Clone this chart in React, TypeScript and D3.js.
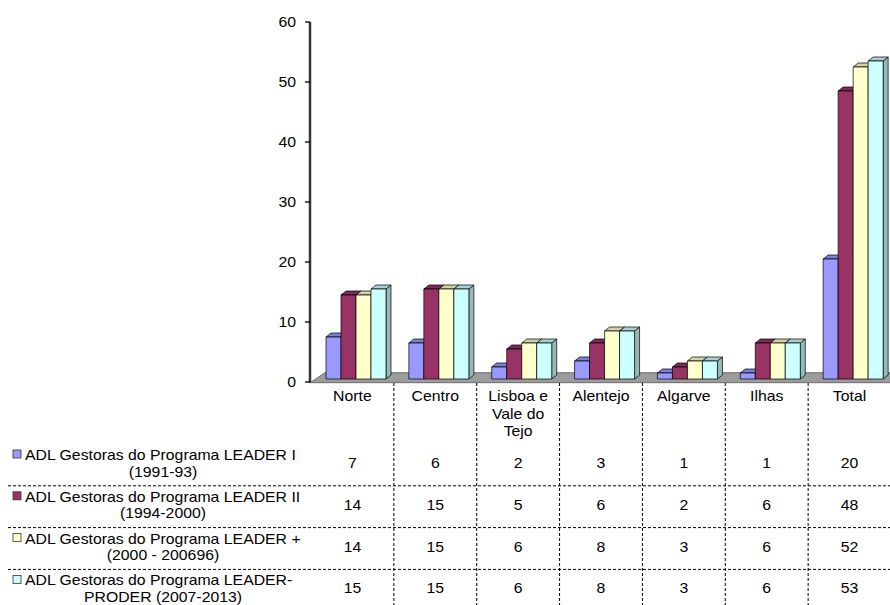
import React from "react";
import * as d3 from "d3";

const categories = ["Norte", "Centro", "Lisboa e Vale do Tejo", "Alentejo", "Algarve", "Ilhas", "Total"];
const categoryLines = [["Norte"], ["Centro"], ["Lisboa e", "Vale do", "Tejo"], ["Alentejo"], ["Algarve"], ["Ilhas"], ["Total"]];
const seriesNames = [
  ["ADL Gestoras do Programa LEADER  I", "(1991-93)"],
  ["ADL Gestoras do Programa LEADER II", "(1994-2000)"],
  ["ADL Gestoras do Programa LEADER +", "(2000 - 200696)"],
  ["ADL Gestoras do Programa LEADER-", "PRODER (2007-2013)"],
];
const leader1 = [7, 6, 2, 3, 1, 1, 20];
const leader2 = [14, 15, 5, 6, 2, 6, 48];
const leaderPlus = [14, 15, 6, 8, 3, 6, 52];
const proder = [15, 15, 6, 8, 3, 6, 53];
const seriesValues = [leader1, leader2, leaderPlus, proder];
const yTicks = [0, 10, 20, 30, 40, 50, 60];
const colors = ["#9999FF", "#993366", "#FFFFCC", "#CCFFFF"];

const W = 890;
const H = 605;
const FONT = "'Liberation Sans', Arial, sans-serif";
const SX = 1.13;

function T({ x, y, anchor = "middle", children, size = 14 }: any) {
  return (
    <text
      transform={`translate(${x},${y}) scale(${SX},1)`}
      textAnchor={anchor}
      fontFamily={FONT}
      fontSize={size}
      fill="#000"
    >
      {children}
    </text>
  );
}

export default function App() {
  const x = d3.scaleBand<string>().domain(categories).range([311, 891]).padding(0);
  const y = d3.scaleLinear().domain([0, 60]).range([382, 22]);
  const inner = d3.scaleBand<number>().domain([0, 1, 2, 3]).range([15, 75]).padding(0);
  const bw = inner.bandwidth();
  const dx = 5;
  const dy = -4;
  const lift = 3;

  const y0 = y(0);
  const floorDepthX = 15;
  const floorDepthY = -10;

  const rowTop = 444;
  const rowH = 41.8;

  const bars: any[] = [];
  categories.forEach((c, ci) => {
    seriesValues.forEach((vals, si) => {
      const v = vals[ci];
      const bx = (x(c) as number) + (inner(si) as number);
      const top = y(v) - lift;
      const bottom = y0 - lift;
      const col = d3.color(colors[si])!;
      const topCol = col.darker(0.55).formatHex();
      const sideCol = col.darker(0.9).formatHex();
      bars.push(
        <g key={`${ci}-${si}`} stroke="#000" strokeWidth={0.7} strokeLinejoin="round">
          <polygon
            points={`${bx + bw},${top} ${bx + bw + dx},${top + dy} ${bx + bw + dx},${bottom + dy} ${bx + bw},${bottom}`}
            fill={sideCol}
          />
          <polygon
            points={`${bx},${top} ${bx + dx},${top + dy} ${bx + bw + dx},${top + dy} ${bx + bw},${top}`}
            fill={topCol}
          />
          <rect x={bx} y={top} width={bw} height={bottom - top} fill={colors[si]} />
        </g>
      );
    });
  });

  return (
    <svg
      width={W}
      height={H}
      style={{ position: "absolute", left: 0, top: 0, background: "#fff" }}
    >
      <rect x={0} y={0} width={W} height={H} fill="#fff" />
      {/* floor */}
      <polygon
        points={`310,${y0 + 0.7} ${310 + floorDepthX},${y0 + floorDepthY + 0.7} ${906},${y0 + floorDepthY + 0.7} ${891},${y0 + 0.7}`}
        fill="#9c9c9c"
        stroke="#555"
        strokeWidth={0.8}
      />
      {/* y axis */}
      <line x1={310} x2={310} y1={y(60)} y2={y0 + 0.7} stroke="#999" strokeWidth={3} />
      <line x1={310} x2={310} y1={y(60)} y2={y0 + 0.7} stroke="#000" strokeWidth={1.3} />
      {yTicks.map((t) => (
        <g key={t}>
          <line x1={305} x2={310} y1={y(t)} y2={y(t)} stroke="#000" strokeWidth={1.3} />
          <T x={296} y={y(t) + 5} anchor="end">
            {t}
          </T>
        </g>
      ))}
      {bars}
      {/* category labels */}
      {categories.map((c, ci) => (
        <g key={c}>
          {categoryLines[ci].map((ln, li) => (
            <T key={li} x={(x(c) as number) + x.bandwidth() / 2} y={401 + li * 17.7}>
              {ln}
            </T>
          ))}
        </g>
      ))}
      {/* vertical dashed dividers */}
      {categories.slice(1).map((c) => (
        <line
          key={c}
          x1={x(c) as number}
          x2={x(c) as number}
          y1={383}
          y2={H}
          stroke="#000"
          strokeWidth={1}
          strokeDasharray="3,2"
        />
      ))}
      {/* horizontal dashed dividers */}
      {[1, 2, 3].map((i) => (
        <line
          key={i}
          x1={8}
          x2={W}
          y1={rowTop + i * rowH}
          y2={rowTop + i * rowH}
          stroke="#000"
          strokeWidth={1}
          strokeDasharray="3,2"
        />
      ))}
      {/* legend rows + values */}
      {seriesNames.map((names, si) => {
        const base = rowTop + si * rowH;
        return (
          <g key={si}>
            <rect
              x={13}
              y={base + 6}
              width={8}
              height={8}
              fill={colors[si]}
              stroke="#333"
              strokeWidth={0.8}
            />
            <T x={25} y={base + 16} anchor="start">
              {names[0]}
            </T>
            <T x={163} y={base + 32.5}>
              {names[1]}
            </T>
            {categories.map((c, ci) => (
              <T key={c} x={(x(c) as number) + x.bandwidth() / 2} y={base + 24}>
                {seriesValues[si][ci]}
              </T>
            ))}
          </g>
        );
      })}
    </svg>
  );
}
